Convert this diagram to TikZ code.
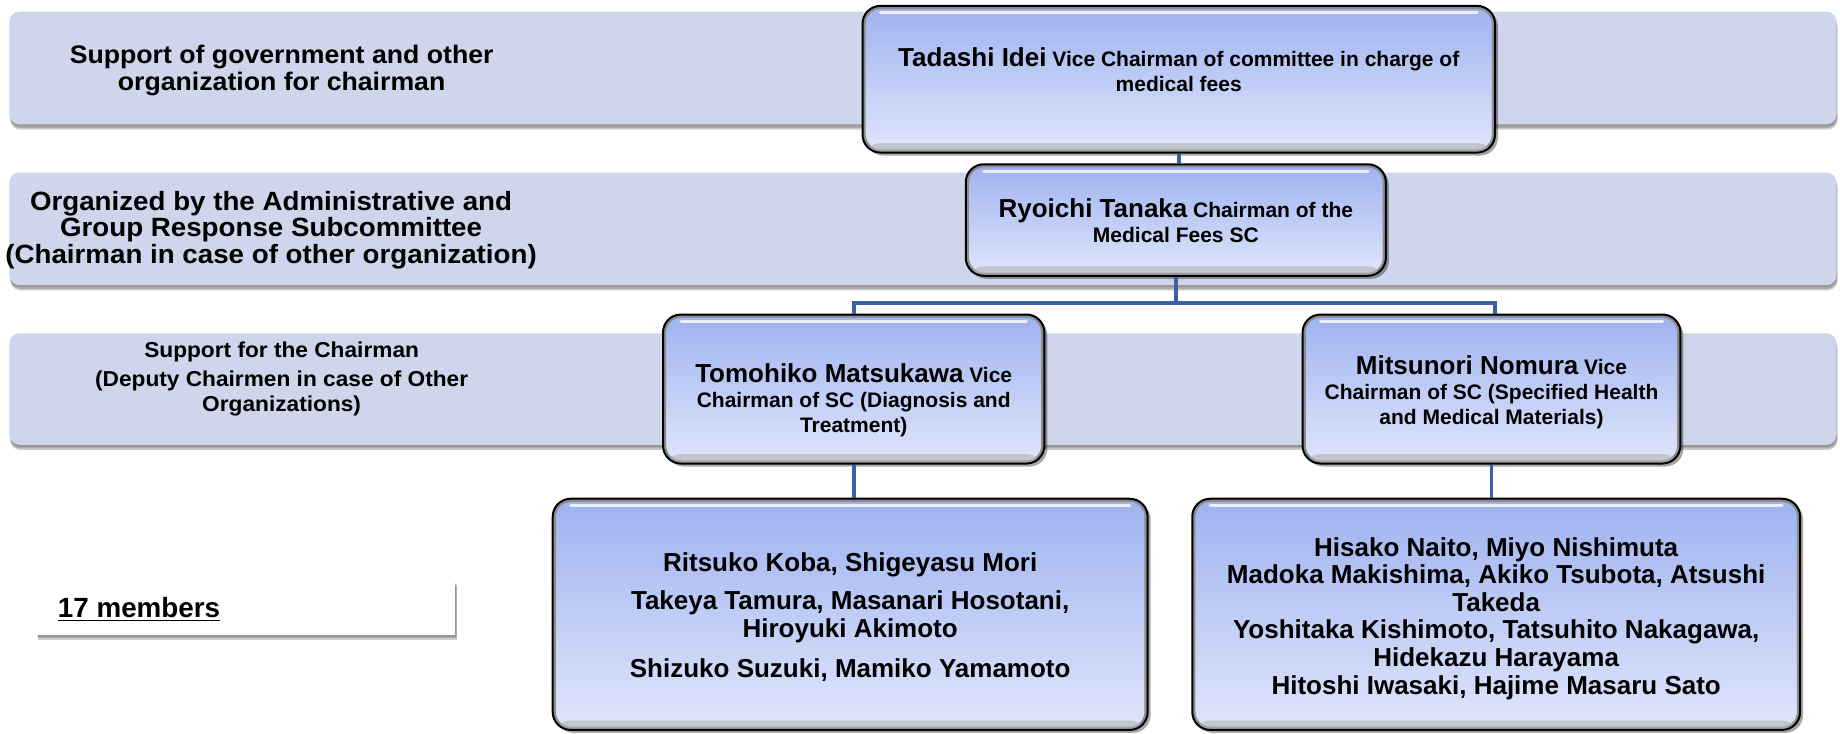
\documentclass[tikz,border=0pt]{standalone}
\usepackage{fontspec}
\setmainfont{Liberation Sans}
\newfontfamily\bandfont[FakeStretch=1.05]{Liberation Sans}
\usetikzlibrary{shadows,calc}
\definecolor{bandc}{RGB}{207,213,234}
\definecolor{boxtop}{RGB}{158,178,240}
\definecolor{boxbot}{RGB}{224,230,251}
\definecolor{linec}{RGB}{58,96,168}
\def\pxu{0.58675pt}
\newcommand\nm[1]{{\fontsize{13}{12.5}\selectfont #1}}
\tikzset{
  softshadow/.style={
    drop shadow={shadow xshift=#1*0.4pt, shadow yshift=-1.0pt, opacity=0.12, fill=black},
    drop shadow={shadow xshift=#1*0.7pt, shadow yshift=-1.8pt, opacity=0.16, fill=black},
    drop shadow={shadow xshift=#1*1.0pt, shadow yshift=-2.6pt, opacity=0.2, fill=black}},
  band/.style={fill=bandc, rounded corners=5pt, softshadow=0.5},
  orgbox/.style={draw=black, line width=1pt, rounded corners=9pt,
    top color=boxtop, bottom color=boxbot,
    drop shadow={shadow xshift=1.5pt, shadow yshift=-1.5pt, opacity=0.35, fill=black},
    path picture={
      \draw[black!45, line width=3.2pt, rounded corners=9pt]
        (path picture bounding box.south west) rectangle (path picture bounding box.north east);
      \fill[black!30, opacity=0.6]
        ($(path picture bounding box.south west)+(0,0)$) rectangle ($(path picture bounding box.south east)+(0,-8)$);
      \draw[white, line width=1.6pt, opacity=0.8, line cap=round]
        ($(path picture bounding box.north west)+(9pt,-3.5pt)$) -- ($(path picture bounding box.north east)+(-9pt,-3.5pt)$);
    }},
  boxtext/.style={align=center, inner sep=0pt, font=\fontsize{10.5}{12.5}\selectfont\bfseries},
  memtext/.style={align=center, inner sep=0pt, font=\fontsize{13}{14}\selectfont\bfseries},
  bandtext/.style={align=center, inner sep=0pt, font=\bandfont\fontsize{13.2}{13.3}\selectfont\bfseries},
  bandtexta/.style={align=center, inner sep=0pt, font=\bandfont\fontsize{12.7}{13.5}\selectfont\bfseries},
  bandtextb/.style={align=center, inner sep=0pt, font=\bandfont\fontsize{10.8}{12.6}\selectfont\bfseries},
  conn/.style={draw=linec, line width=1.9pt},
  lblbox/.style={fill=white, softshadow=1},
}
\begin{document}
\begin{tikzpicture}[x=0.58675pt, y=-0.58675pt]
\useasboundingbox (0,0) rectangle (1568,625);
% bands
\path[band] (8,10) rectangle (1565,106);
\path[band] (8,147) rectangle (1565,243);
\path[band] (8,284) rectangle (1565,379);
\node[bandtexta] (b1t) at (240,60) {Support of government and other\\organization for chairman};
\node[bandtext] (b2t) at (231,196) {Organized by the Administrative and\\Group Response Subcommittee\\(Chairman in case of other organization)};
\node[bandtextb] (b3t) at (240,323) {Support for the Chairman\\[1.5pt](Deputy Chairmen in case of Other\\Organizations)};
% label box
\node[lblbox, minimum width={357*\pxu}, minimum height={46*\pxu}, inner sep=0pt] (lbl) at (209.5,518) {};
\node[anchor=base east, inner sep=0pt, font=\fontsize{13.9}{14}\selectfont\bfseries] (lblt) at (188,526) {\underline{17 members}};
% boxes
\node[orgbox, minimum width={539*\pxu}, minimum height={125*\pxu}] (tadashi) at (1004.5,67.5) {};
\node[orgbox, minimum width={358*\pxu}, minimum height={95*\pxu}] (ryoichi) at (1002,187.5) {};
\node[orgbox, minimum width={325*\pxu}, minimum height={127*\pxu}] (tomohiko) at (727.5,331.5) {};
\node[orgbox, minimum width={322*\pxu}, minimum height={127*\pxu}] (mitsunori) at (1271,331.5) {};
\node[orgbox, minimum width={507*\pxu}, minimum height={197*\pxu}] (m1) at (724.5,523.5) {};
\node[orgbox, minimum width={518*\pxu}, minimum height={197*\pxu}] (m2) at (1275,523.5) {};
% connectors
\coordinate (jl) at (727.5,258);
\coordinate (jr) at (1274,258);
\draw[conn] (tadashi.south) -- (tadashi.south |- ryoichi.north);
\draw[conn] (ryoichi.south) |- (jl) -- (tomohiko.north);
\draw[conn] (ryoichi.south) |- (jr) -- (jr |- mitsunori.north);
\draw[conn] (tomohiko.south) -- (tomohiko.south |- m1.north);
\draw[conn] (mitsunori.south) -- (mitsunori.south |- m2.north);
% texts
\node[boxtext] (tadashi-t) at (1004.5,59) {\nm{Tadashi Idei} Vice Chairman of committee in charge of\\medical fees};
\node[boxtext] (ryoichi-t) at (1002,188) {\nm{Ryoichi Tanaka} Chairman of the\\Medical Fees SC};
\node[boxtext] (tomohiko-t) at (727.5,341) {\nm{Tomohiko Matsukawa} Vice\\Chairman of SC (Diagnosis and\\Treatment)};
\node[boxtext] (mitsunori-t) at (1271,334) {\nm{Mitsunori Nomura} Vice\\Chairman of SC (Specified Health\\and Medical Materials)};
\node[memtext] (m1-t) at (724.5,526) {Ritsuko Koba, Shigeyasu Mori\\[5pt]Takeya Tamura, Masanari Hosotani,\\Hiroyuki Akimoto\\[6pt]Shizuko Suzuki, Mamiko Yamamoto};
\node[memtext, font=\fontsize{13}{13.8}\selectfont\bfseries] (m2-t) at (1275,527) {Hisako Naito, Miyo Nishimuta\\Madoka Makishima, Akiko Tsubota, Atsushi\\Takeda\\Yoshitaka Kishimoto, Tatsuhito Nakagawa,\\Hidekazu Harayama\\Hitoshi Iwasaki, Hajime Masaru Sato};
\end{tikzpicture}
\end{document}
